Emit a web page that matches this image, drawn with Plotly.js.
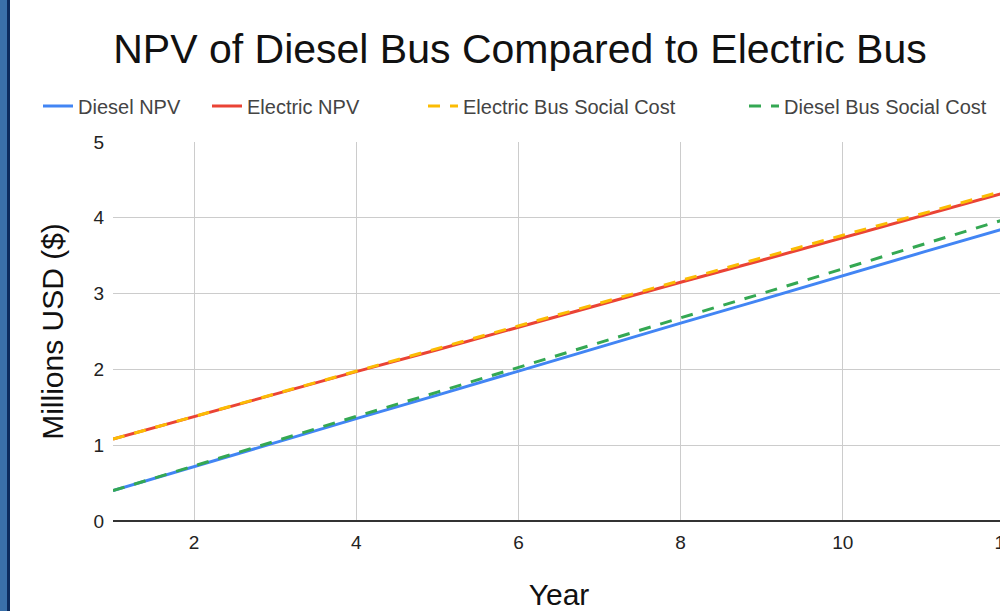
<!DOCTYPE html>
<html>
<head>
<meta charset="utf-8">
<script src="https://cdn.plot.ly/plotly-3.0.1.min.js"></script>
<style>
html,body{margin:0;padding:0;overflow:hidden;background:#fff;width:1000px;height:611px;}
#chart{position:absolute;left:0;top:0;width:1040px;height:611px;}
#b1{position:absolute;left:0;top:0;width:7px;height:611px;background:#3a70aa;}
#b2{position:absolute;left:7px;top:0;width:3px;height:611px;background:#0c2b5e;}
</style>
</head>
<body>
<div id="chart"></div>
<div id="b1"></div><div id="b2"></div>
<script>
const years = [1,2,3,4,5,6,7,8,9,10,11,12];
const dieselNPV = [0.40,0.72,1.03,1.35,1.66,1.98,2.29,2.61,2.92,3.24,3.55,3.86];
const electricNPV = [1.08,1.38,1.67,1.97,2.26,2.56,2.85,3.15,3.44,3.74,4.03,4.33];
const electricSocial = [1.08,1.38,1.68,1.98,2.28,2.58,2.87,3.17,3.47,3.77,4.06,4.36];
const dieselSocial = [0.40,0.73,1.05,1.38,1.70,2.03,2.35,2.68,3.00,3.33,3.65,3.98];
const seriesNames = ['Diesel NPV','Electric NPV','Electric Bus Social Cost','Diesel Bus Social Cost'];

const W = 1040;
const FONT = 'Liberation Sans, Arial, sans-serif';
const traces = [
  {x: years, y: dieselNPV, name: seriesNames[0], mode:'lines', line:{color:'#4285F4', width:3}, legend:'legend'},
  {x: years, y: electricNPV, name: seriesNames[1], mode:'lines', line:{color:'#EA4335', width:3}, legend:'legend2'},
  {x: years, y: electricSocial, name: seriesNames[2], mode:'lines', line:{color:'#FBBC04', width:3, dash:'12px,10px'}, legend:'legend3'},
  {x: years, y: dieselSocial, name: seriesNames[3], mode:'lines', line:{color:'#34A853', width:3, dash:'12px,10px'}, legend:'legend4'}
];
function leg(px){
  return {orientation:'h', xref:'container', yref:'container', x: px/W, y: 1-106/611, xanchor:'left', yanchor:'middle',
    font:{family:FONT, size:20, color:'#444'}, bgcolor:'rgba(0,0,0,0)'};
}
const layout = {
  width: W, height: 611,
  margin:{l:113, r:35, t:142, b:90},
  paper_bgcolor:'#fff', plot_bgcolor:'#fff',
  font:{family:FONT, color:'#333'},
  title:{text:'NPV of Diesel Bus Compared to Electric Bus', font:{family:FONT, size:41, color:'#111'}, x:0.5, xanchor:'center', xref:'container', y:1-49/611, yref:'container', yanchor:'middle'},
  showlegend:true,
  legend: leg(38),
  legend2: leg(207),
  legend3: leg(423),
  legend4: leg(744),
  xaxis:{range:[1,12], tickvals:[2,4,6,8,10,12], showgrid:true, gridcolor:'#cccccc', gridwidth:1, zeroline:false, showline:false, ticks:'',
    tickfont:{family:FONT, size:19, color:'#222'}, ticklabelstandoff:8,
    title:{text:'Year', font:{family:FONT, size:30, color:'#111'}, standoff:32}},
  yaxis:{range:[0,5], tickvals:[0,1,2,3,4,5], showgrid:true, gridcolor:'#cccccc', gridwidth:1, zeroline:true, zerolinecolor:'#333', zerolinewidth:2, ticks:'',
    tickfont:{family:FONT, size:19, color:'#222'}, ticklabelstandoff:8,
    title:{text:'Millions USD ($)', font:{family:FONT, size:30, color:'#111'}, standoff:20}}
};
Plotly.newPlot('chart', traces, layout, {displayModeBar:false, staticPlot:true});
</script>
</body>
</html>
